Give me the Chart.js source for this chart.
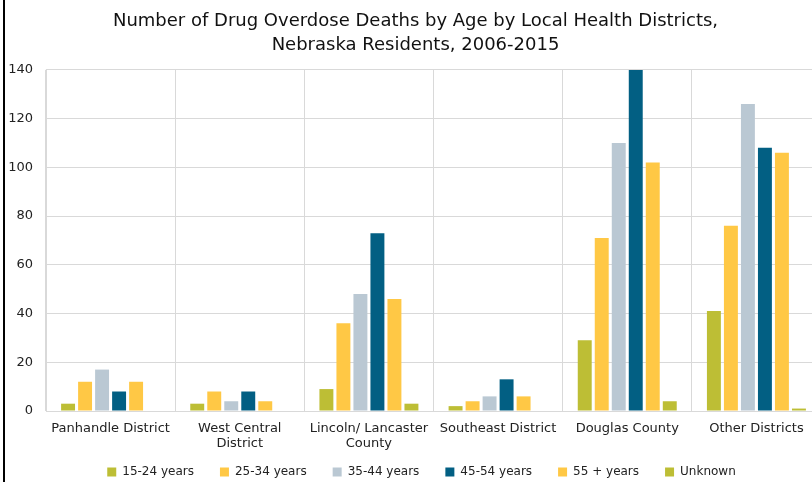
<!DOCTYPE html>
<html>
<head>
<meta charset="utf-8">
<script src="https://cdn.jsdelivr.net/npm/chart.js@4"></script>
<style>
  html, body { margin: 0; padding: 0; background: #fff; overflow: hidden; }
  #wrap { position: absolute; left: 0; top: 0; width: 826px; height: 482px; }
  #edge { position: absolute; left: 3px; top: 0; width: 2px; height: 482px; background: #000; }
</style>
</head>
<body>
<div id="wrap"><canvas id="c" width="826" height="482"></canvas></div>
<div id="edge"></div>
<script>
// Local health districts (multi-line labels as arrays)
const districts = [
  'Panhandle District',
  ['West Central', 'District'],
  ['Lincoln/ Lancaster', 'County'],
  'Southeast District',
  'Douglas County',
  'Other Districts'
];

// Deaths per age group, one value per district
const age15to24 = [3, 3, 9, 2, 29, 41];
const age25to34 = [12, 8, 36, 4, 71, 76];
const age35to44 = [17, 4, 48, 6, 110, 126];
const age45to54 = [8, 8, 73, 13, 140, 108];
const age55plus = [12, 4, 46, 6, 102, 106];
const ageUnknown = [0, 0, 3, 0, 4, 1];

const seriesNames = ['15-24 years', '25-34 years', '35-44 years', '45-54 years', '55 + years', 'Unknown'];
const seriesColors = ['#bdbe35', '#ffc845', '#bac8d3', '#025f83', '#ffc845', '#bdbe35'];
const seriesValues = [age15to24, age25to34, age35to44, age45to54, age55plus, ageUnknown];

const yTicks = [0, 20, 40, 60, 80, 100, 120, 140];

const FONT = "'DejaVu Sans', sans-serif";
const TEXT = '#222222';

// Legend: compact layout box, wide item spacing, moved into place after layout
const LEGEND_BOX_HEIGHT = 31;
const LEGEND_SHIFT = { x: 11, y: -11 };
const TITLE_SHIFT_X = 5;

const legendPlacement = {
  id: 'legendPlacement',
  afterInit(chart) {
    const lg = chart.legend;
    const fit = lg.fit.bind(lg);
    lg.fit = function () { fit(); this.height = LEGEND_BOX_HEIGHT; };
  },
  afterLayout(chart) {
    const lg = chart.legend;
    lg.left += LEGEND_SHIFT.x; lg.right += LEGEND_SHIFT.x;
    lg.top += LEGEND_SHIFT.y;
    lg.height = lg.bottom - lg.top;
    const tb = chart.titleBlock;
    if (tb) { tb.left += TITLE_SHIFT_X; tb.right += TITLE_SHIFT_X; }
  }
};

new Chart(document.getElementById('c'), {
  type: 'bar',
  data: {
    labels: districts,
    datasets: seriesValues.map((vals, i) => ({
      label: seriesNames[i],
      data: vals,
      backgroundColor: seriesColors[i],
      borderWidth: 0,
      categoryPercentage: 0.79,
      barPercentage: 0.82
    }))
  },
  plugins: [legendPlacement],
  options: {
    responsive: false,
    animation: false,
    layout: { padding: { left: 0, right: 5, top: 0, bottom: 0 } },
    plugins: {
      title: {
        display: true,
        text: ['Number of Drug Overdose Deaths by Age by Local Health Districts,', 'Nebraska Residents, 2006-2015'],
        color: '#111111',
        font: { family: FONT, size: 18, weight: 'normal', lineHeight: 1.33 },
        padding: { top: 9, bottom: 13 }
      },
      legend: {
        position: 'bottom',
        labels: {
          color: TEXT,
          font: { family: FONT, size: 12, weight: 'normal' },
          boxWidth: 9,
          boxHeight: 9,
          padding: 26
        }
      },
      tooltip: { enabled: false }
    },
    scales: {
      x: {
        afterFit: (s) => { s.height = 40; },
        grid: { color: '#d9d9d9', lineWidth: 1, offset: true, drawTicks: false },
        border: { color: '#d9d9d9' },
        ticks: {
          color: TEXT,
          font: { family: FONT, size: 13, weight: 'normal', lineHeight: 1.15 },
          padding: 10,
          maxRotation: 0
        }
      },
      y: {
        min: 0,
        max: 140,
        afterBuildTicks: (s) => { s.ticks = yTicks.map(v => ({ value: v })); },
        afterFit: (s) => { s.width = 46; },
        grid: { color: '#d9d9d9', lineWidth: 1, drawTicks: false },
        border: { color: '#d9d9d9' },
        ticks: {
          color: TEXT,
          font: { family: FONT, size: 13, weight: 'normal' },
          padding: 13
        }
      }
    }
  }
});
</script>
</body>
</html>
